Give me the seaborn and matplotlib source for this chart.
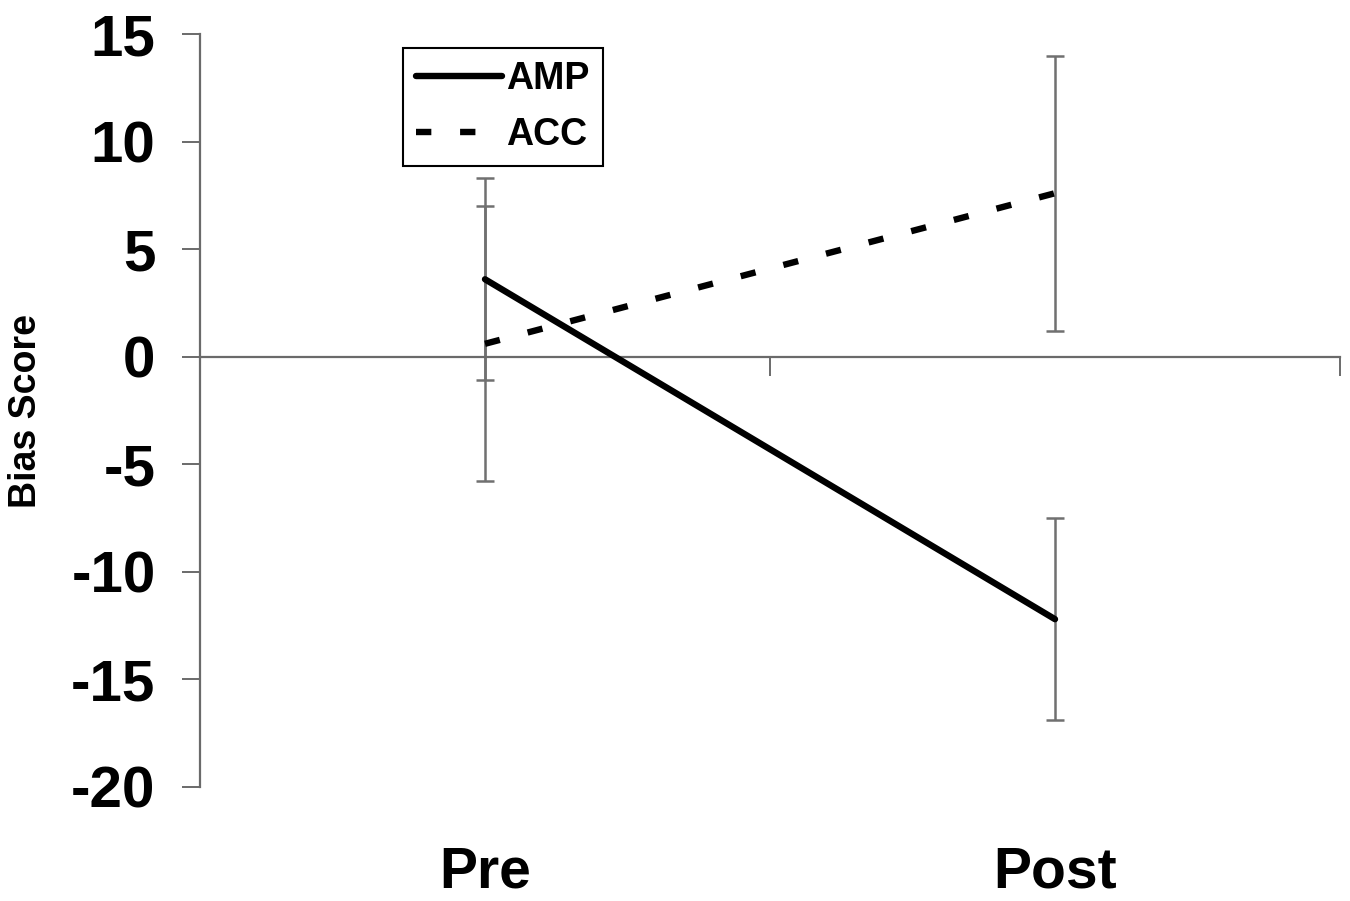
import numpy as np
import pandas as pd
import matplotlib
matplotlib.use('Agg')
import matplotlib.pyplot as plt
import matplotlib.transforms as mtransforms
import seaborn as sns

# Data
phases = ['Pre', 'Post']
groups = ['AMP', 'ACC']
amp_means = [3.6, -12.2]
amp_err = [4.7, 4.7]
acc_means = [0.6, 7.6]
acc_err = [6.4, 6.4]
y_ticks = [15, 10, 5, 0, -5, -10, -15, -20]

# Style config
sns.set_style('ticks')
plt.rcParams['font.family'] = ['Liberation Sans', 'DejaVu Sans']
plt.rcParams['font.weight'] = 'bold'
plt.rcParams['text.color'] = 'black'
plt.rcParams['ytick.labelcolor'] = 'black'
plt.rcParams['axes.labelcolor'] = 'black'

AXIS_GREY = '#6a6a6a'
ERR_GREY = '#707070'
LW = 4.6

x_pos = np.arange(len(phases))
df = pd.DataFrame({
    'phase': np.tile(x_pos, len(groups)),
    'score': amp_means + acc_means,
    'group': np.repeat(groups, len(phases)),
})

fig = plt.figure(figsize=(13.5, 9.01), dpi=100)
ax = fig.add_axes([200 / 1350, 1 - 787 / 901, 1140 / 1350, 753 / 901])

# error bars sit behind the lines
ax.errorbar(x_pos, amp_means, yerr=amp_err, fmt='none', ecolor=ERR_GREY,
            elinewidth=1.8, capsize=6.5, capthick=1.8, zorder=2)
ax.errorbar(x_pos, acc_means, yerr=acc_err, fmt='none', ecolor=ERR_GREY,
            elinewidth=1.8, capsize=6.5, capthick=1.8, zorder=2)

sns.lineplot(data=df, x='phase', y='score', hue='group', style='group',
             palette={'AMP': 'black', 'ACC': 'black'},
             dashes={'AMP': '', 'ACC': (2.4, 4.5)},
             linewidth=LW, ax=ax, zorder=3)

ax.set_xlim(-0.5, len(phases) - 0.5)
ax.set_ylim(-20, 15)
ax.set_yticks(y_ticks)
ax.set_yticklabels([str(t) for t in y_ticks], fontsize=42,
                   fontweight='bold', color='black')
ax.set_xticks(np.arange(-0.5, len(phases), 1.0))
ax.set_xticklabels([])
ax.set_xlabel('')

for s in ['top', 'right']:
    ax.spines[s].set_visible(False)
ax.spines['bottom'].set_position(('data', 0))
for s in ['left', 'bottom']:
    ax.spines[s].set_color(AXIS_GREY)
    ax.spines[s].set_linewidth(1.6)

ax.tick_params(axis='y', direction='out', length=13, width=1.4,
               color=AXIS_GREY, pad=19)
ax.tick_params(axis='x', direction='out', length=14, width=1.4,
               color=AXIS_GREY)

# category labels below the plotting area
trans = mtransforms.blended_transform_factory(ax.transData, ax.transAxes)
for xp, name in zip(x_pos, phases):
    ax.text(xp, -0.114, name, transform=trans, ha='center', va='center',
            fontsize=41, fontweight='bold', color='black')

ax.set_ylabel('Bias Score', fontsize=27, fontweight='bold', color='black')
ax.yaxis.set_label_coords(-0.137, 0.5)

handles, labels = ax.get_legend_handles_labels()
leg = ax.legend(handles, labels, loc='upper left',
                bbox_to_anchor=(0.178, 0.981), frameon=True, fancybox=False,
                framealpha=1, edgecolor='black', fontsize=27,
                handlelength=2.3, handletextpad=0.1, borderpad=0.35,
                labelspacing=0.52, borderaxespad=0)
leg.get_frame().set_linewidth(1.5)
for t in leg.get_texts():
    t.set_fontweight('bold')
    t.set_color('black')
for ln in leg.get_lines():
    ln.set_linewidth(LW)

fig.savefig('out.png', dpi=100)
plt.close(fig)
